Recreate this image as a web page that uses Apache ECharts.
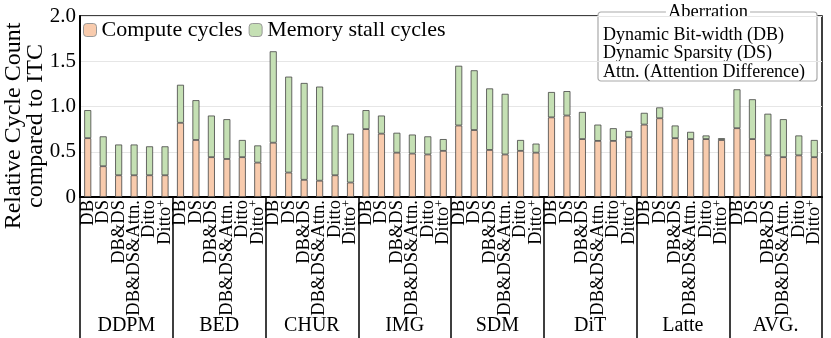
<!DOCTYPE html>
<html>
<head>
<meta charset="utf-8">
<script src="https://cdn.jsdelivr.net/npm/echarts@6/dist/echarts.min.js"></script>
<style>
  html, body { margin: 0; padding: 0; background: #fff; }
  #chart { width: 831px; height: 338px; }
</style>
</head>
<body>
<div id="chart"></div>
<script>
var groups = ['DDPM', 'BED', 'CHUR', 'IMG', 'SDM', 'DiT', 'Latte', 'AVG.']
var variants = ['DB', 'DS', 'DB&DS', 'DB&DS&Attn.', 'Ditto', 'Ditto+']

// compute part of each bar, one row per group
var computeCycles = [
  0.65, 0.34, 0.24, 0.24, 0.24, 0.24,
  0.82, 0.63, 0.44, 0.42, 0.44, 0.38,
  0.60, 0.27, 0.19, 0.18, 0.24, 0.16,
  0.75, 0.70, 0.49, 0.48, 0.47, 0.51,
  0.79, 0.74, 0.52, 0.47, 0.51, 0.49,
  0.88, 0.90, 0.64, 0.62, 0.62, 0.66,
  0.80, 0.87, 0.65, 0.64, 0.64, 0.63,
  0.76, 0.64, 0.46, 0.44, 0.46, 0.44
]
// memory stall part stacked on top
var memoryStall = [
  0.31, 0.33, 0.34, 0.34, 0.32, 0.32,
  0.42, 0.44, 0.46, 0.44, 0.19, 0.19,
  1.01, 1.06, 1.07, 1.04, 0.55, 0.54,
  0.21, 0.20, 0.22, 0.21, 0.20, 0.13,
  0.66, 0.66, 0.68, 0.67, 0.12, 0.10,
  0.28, 0.27, 0.30, 0.18, 0.14, 0.07,
  0.13, 0.12, 0.14, 0.08, 0.04, 0.02,
  0.43, 0.44, 0.46, 0.42, 0.22, 0.19
]
var yTicks = ['0', '0.5', '1.0', '1.5', '2.0']
var aberrationLines = ['Dynamic Bit-width (DB)', 'Dynamic Sparsity (DS)', 'Attn. (Attention Difference)']

var categories = []
groups.forEach(function () {
  variants.forEach(function (v) { categories.push(v) })
})

var serif = 'Liberation Serif'
var chart = echarts.init(document.getElementById('chart'))

var option = {
  backgroundColor: '#fff',
  animation: false,
  textStyle: { fontFamily: serif, color: '#000' },
  grid: {
    left: 80, right: 9, top: 16, bottom: 141,
    show: true, borderColor: '#000', borderWidth: 1.5, backgroundColor: 'transparent'
  },
  legend: {
    left: 78, top: 14,
    itemWidth: 13, itemHeight: 13, itemGap: 6,
    textStyle: { fontFamily: serif, fontSize: 22, color: '#000' },
    itemStyle: { borderColor: '#999', borderWidth: 1 },
    data: ['Compute cycles', 'Memory stall cycles']
  },
  xAxis: [
    {
      type: 'category',
      data: categories,
      position: 'bottom',
      axisLine: { lineStyle: { color: '#000', width: 2 } },
      axisTick: { show: false },
      axisLabel: {
        interval: 0, rotate: 90, margin: 3,
        fontFamily: serif, fontSize: 18.5, color: '#000',
        formatter: function (v) {
          return v === 'Ditto+' ? 'Ditto{sup|+}' : v
        },
        rich: {
          sup: { fontFamily: serif, fontSize: 12, verticalAlign: 'top', lineHeight: 12 }
        }
      }
    },
    {
      type: 'category',
      data: groups,
      position: 'bottom',
      axisLine: { show: false },
      axisTick: { show: true, length: 141, lineStyle: { color: '#000', width: 1.5 } },
      axisLabel: { interval: 0, margin: 119, fontFamily: serif, fontSize: 20, color: '#000' }
    }
  ],
  yAxis: {
    type: 'value', min: 0, max: 2, interval: 0.5,
    axisLine: { show: true, lineStyle: { color: '#000', width: 2 } },
    axisTick: { show: false },
    splitLine: { lineStyle: { color: '#e6e6e6', width: 1 } },
    axisLabel: {
      margin: 4, fontFamily: serif, fontSize: 21, color: '#000',
      formatter: function (v) { return yTicks[Math.round(v / 0.5)] }
    }
  },
  series: [
    {
      name: 'Compute cycles', type: 'bar', stack: 'cyc', xAxisIndex: 0,
      barWidth: 7,
      itemStyle: { color: '#f8cbad', borderColor: '#444', borderWidth: 0.8 },
      data: computeCycles
    },
    {
      name: 'Memory stall cycles', type: 'bar', stack: 'cyc', xAxisIndex: 0,
      barWidth: 7,
      itemStyle: { color: '#c5e0b4', borderColor: '#444', borderWidth: 0.8 },
      data: memoryStall
    }
  ],
  graphic: [
    {
      type: 'text', x: 25, y: 126, rotation: Math.PI / 2,
      style: {
        text: 'Relative Cycle Count\ncompared to ITC',
        fontFamily: serif, fontSize: 24, fill: '#000',
        align: 'center', verticalAlign: 'middle', lineHeight: 22
      }
    },
    {
      type: 'group', x: 598, y: 12, z: 100,
      children: [
        {
          type: 'rect', shape: { x: 0, y: 0, width: 219, height: 69, r: 3 },
          style: { fill: '#fff', stroke: '#aaa', lineWidth: 1.2 }
        },
        {
          type: 'text', x: 110, y: 0,
          style: {
            text: 'Aberration', fontFamily: serif, fontSize: 18.5, fill: '#000',
            align: 'center', verticalAlign: 'middle',
            backgroundColor: '#fff', padding: [0, 2]
          }
        },
        {
          type: 'text', x: 5, y: 14,
          style: {
            text: aberrationLines.join('\n'), fontFamily: serif, fontSize: 18, fill: '#000',
            align: 'left', verticalAlign: 'top', lineHeight: 18.5
          }
        }
      ]
    }
  ]
}

chart.setOption(option)
</script>
</body>
</html>
